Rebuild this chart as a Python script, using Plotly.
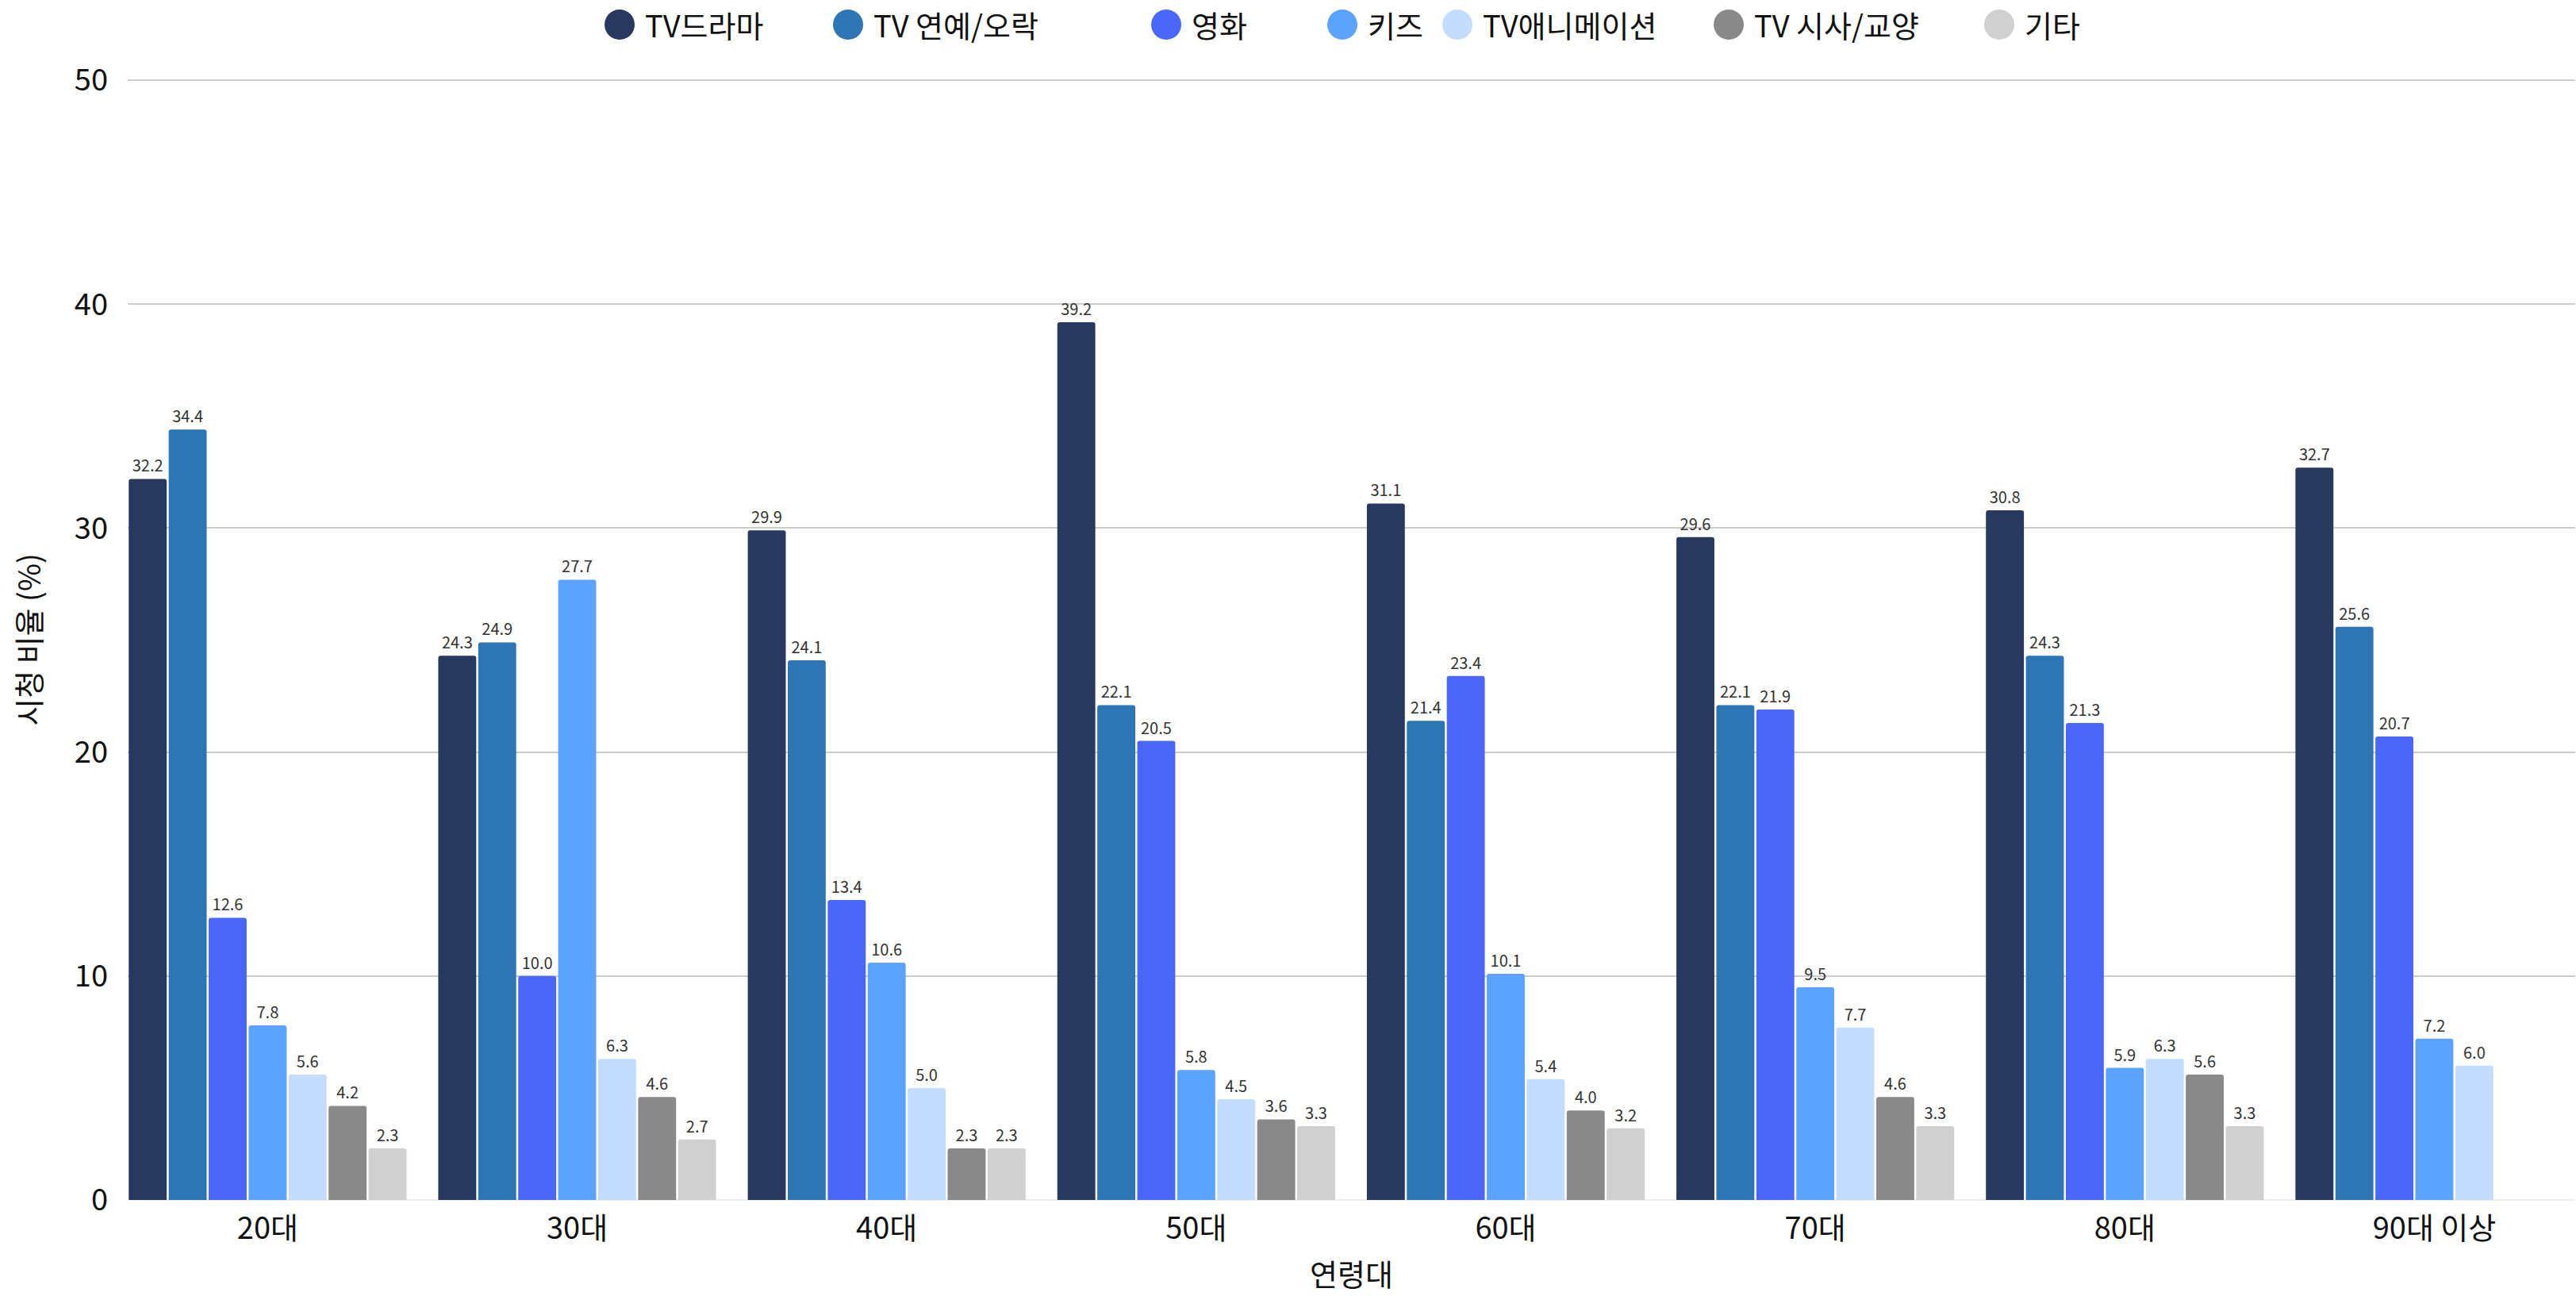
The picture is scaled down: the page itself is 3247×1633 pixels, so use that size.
import plotly.graph_objects as go

# Viewing share (%) by content genre for each age group
age_groups = ["20대", "30대", "40대", "50대", "60대", "70대", "80대", "90대 이상"]
genres = ["TV드라마", "TV 연예/오락", "영화", "키즈", "TV애니메이션", "TV 시사/교양", "기타"]

tv_drama = [32.2, 24.3, 29.9, 39.2, 31.1, 29.6, 30.8, 32.7]
tv_variety = [34.4, 24.9, 24.1, 22.1, 21.4, 22.1, 24.3, 25.6]
movie = [12.6, 10.0, 13.4, 20.5, 23.4, 21.9, 21.3, 20.7]
kids = [7.8, 27.7, 10.6, 5.8, 10.1, 9.5, 5.9, 7.2]
tv_animation = [5.6, 6.3, 5.0, 4.5, 5.4, 7.7, 6.3, 6.0]
tv_current = [4.2, 4.6, 2.3, 3.6, 4.0, 4.6, 5.6, None]
other = [2.3, 2.7, 2.3, 3.3, 3.2, 3.3, 3.3, None]

series = [tv_drama, tv_variety, movie, kids, tv_animation, tv_current, other]
colors = ["#29385E", "#2E75B6", "#4A67FA", "#5CA3FF", "#C3DCFF", "#898989", "#D0D0D0"]

FONT = "Noto Sans CJK KR"
W, H = 3247, 1633
M_L, M_R, M_T, M_B = 161, 1, 100, 121

fig = go.Figure()
for name, vals, col in zip(genres, series, colors):
    fig.add_trace(go.Bar(
        name=name,
        x=age_groups,
        y=vals,
        marker=dict(color=col, line=dict(width=0), cornerradius=3),
        text=[f"{v:.1f}" if v is not None else "" for v in vals],
        textposition="outside",
        textfont=dict(size=20, color="#333333", family=FONT),
        cliponaxis=False,
        showlegend=False,
    ))

# Legend row drawn with large circular swatches
legend_circle_x = [781, 1069, 1470, 1692, 1837, 2179, 2520]
legend_y_px = 31
plot_w = W - M_L - M_R
plot_h = H - M_T - M_B
ly = 1 + (M_T - legend_y_px) / plot_h
shapes = []
annotations = []
for name, col, cx in zip(genres, colors, legend_circle_x):
    shapes.append(dict(
        type="circle", xref="paper", yref="paper",
        xsizemode="pixel", ysizemode="pixel",
        xanchor=(cx - M_L) / plot_w, yanchor=ly,
        x0=-19, x1=19, y0=-19, y1=19,
        fillcolor=col, line=dict(width=0),
    ))
    annotations.append(dict(
        text=name, xref="paper", yref="paper",
        x=(cx + 30 - M_L) / plot_w, y=ly,
        xanchor="left", yanchor="middle", showarrow=False,
        font=dict(size=38, color="#111111", family=FONT),
    ))

fig.update_layout(
    width=W, height=H,
    barmode="group",
    bargap=0.096,
    bargroupgap=0.05,
    plot_bgcolor="white",
    paper_bgcolor="white",
    margin=dict(l=M_L, r=M_R, t=M_T, b=M_B),
    font=dict(family=FONT, size=38, color="#111111"),
    shapes=shapes,
    annotations=annotations,
    xaxis=dict(
        title=dict(text="연령대", font=dict(size=38), standoff=22),
        range=[-0.452, 7.455],
        tickfont=dict(size=38),
        showgrid=False,
        showline=False,
        ticks="",
        ticklabelstandoff=10,
    ),
    yaxis=dict(
        title=dict(text="시청 비율 (%)", font=dict(size=38), standoff=30),
        range=[0, 50.04],
        tickvals=[0, 10, 20, 30, 40, 50],
        tickfont=dict(size=38),
        showgrid=True,
        gridcolor="#CCCCCC",
        gridwidth=2,
        zeroline=True,
        zerolinecolor="#EEEEEE",
        zerolinewidth=2,
        ticklabelstandoff=24,
    ),
)

fig.write_html("out.html")
